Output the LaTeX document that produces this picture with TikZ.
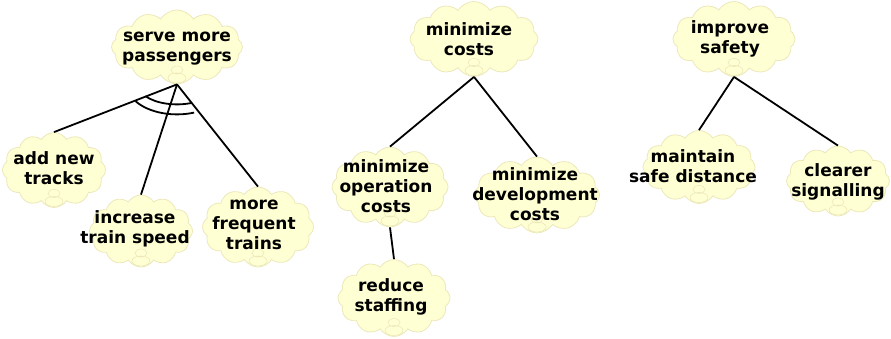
\documentclass[tikz,border=0pt]{standalone}
\usepackage{fontspec}
\setmainfont{DejaVu Sans}
\usetikzlibrary{shapes.symbols, positioning}

\definecolor{cloudfill}{RGB}{255,255,212}
\definecolor{cloudline}{RGB}{236,232,186}

\tikzset{
  goal/.style={cloud, cloud puffs=12, cloud puff arc=115, cloud ignores aspect,
    fill=cloudfill, draw=cloudline, line width=0.8pt, inner sep=0pt,
    path picture={\draw[cloudline, line width=0.6pt]
      ([yshift=6pt]path picture bounding box.south) ellipse (9pt and 5pt)
      ([yshift=14pt]path picture bounding box.south) ellipse (6pt and 4pt);}},
  goaltext/.style={align=center, inner sep=0pt,
    font=\bfseries\fontsize{17}{20}\selectfont},
  link/.style={line width=1.8pt}
}

\begin{document}
\begin{tikzpicture}[x=1pt, y=1pt]
  \useasboundingbox (0,0) rectangle (891,339);

  % Clouds
  \node[goal, minimum width=131, minimum height=74] (serve) at (177,292) {};
  \node[goal, minimum width=103, minimum height=75] (tracks) at (54,169) {};
  \node[goal, minimum width=103, minimum height=72] (speed) at (141,108) {};
  \node[goal, minimum width=111, minimum height=80] (freq) at (258,112) {};
  \node[goal, minimum width=128, minimum height=75] (costs) at (474,300) {};
  \node[goal, minimum width=116, minimum height=80] (oper) at (390,152) {};
  \node[goal, minimum width=125, minimum height=76] (devel) at (537,144) {};
  \node[goal, minimum width=112, minimum height=77] (staff) at (394,41) {};
  \node[goal, minimum width=122, minimum height=75] (safety) at (734,300) {};
  \node[goal, minimum width=112, minimum height=73] (dist) at (699,172) {};
  \node[goal, minimum width=103, minimum height=70] (signal) at (838,158) {};

  % Texts
  \node[goaltext] (servetxt) at (177,290) {serve more\\passengers};
  \node[goaltext] (trackstxt) at (54,171) {add new\\tracks};
  \node[goaltext] (speedtxt) at (135,110) {increase\\train speed};
  \node[goaltext] (freqtxt) at (254,114) {more\\frequent\\trains};
  \node[goaltext] (coststxt) at (469,300) {minimize\\costs};
  \node[goaltext] (opertxt) at (386,153) {minimize\\operation\\costs};
  \node[goaltext] (develtxt) at (535,145) {minimize\\development\\costs};
  \node[goaltext] (stafftxt) at (391,42) {reduce\\staffing};
  \node[goaltext] (safetytxt) at (730,300) {improve\\safety};
  \node[goaltext] (disttxt) at (693,173) {maintain\\safe distance};
  \node[goaltext] (signaltxt) at (838,157) {clearer\\signalling};

  % Refinement links
  \draw[link] (serve.south) -- (tracks.north);
  \draw[link] (serve.south) -- (speed.north);
  \draw[link] (serve.south) -- (freq.north);
  \draw[link] ([shift={(216:39 and 20)}]serve.south) arc[start angle=216, end angle=292, x radius=39, y radius=20];
  \draw[link] ([shift={(214:50 and 30)}]serve.south) arc[start angle=214, end angle=290, x radius=50, y radius=30];

  \draw[link] (costs.south) -- (oper.north);
  \draw[link] (costs.south) -- (devel.north);
  \draw[link] (oper.south) -- (staff.north);

  \draw[link] (safety.south) -- (dist.north);
  \draw[link] (safety.south) -- (signal.north);
\end{tikzpicture}
\end{document}
